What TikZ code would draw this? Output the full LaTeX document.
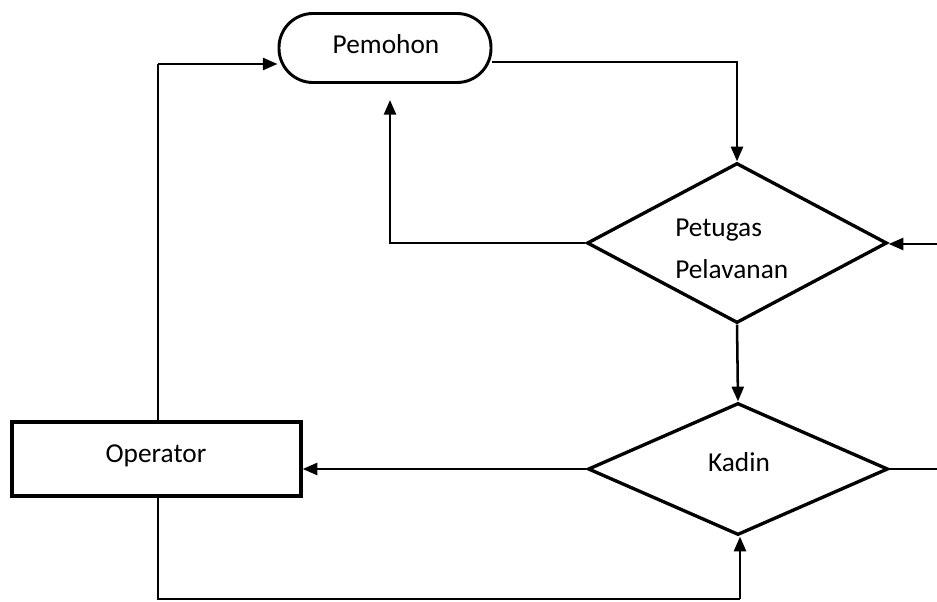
\documentclass[tikz,border=0pt]{standalone}
\usepackage{fontspec}
\setmainfont{Carlito}
\usetikzlibrary{shapes.geometric,arrows.meta,calc}
\begin{document}
\begin{tikzpicture}[x=0.75pt,y=-0.75pt,
  every node/.style={font=\fontsize{20.5pt}{31pt}\selectfont},
  stadium/.style={draw,line width=2.2pt,rectangle,rounded corners=25.5pt,minimum width=159pt,minimum height=51.75pt,inner sep=0pt},
  decision/.style={draw,line width=2.5pt,diamond,minimum width=225pt,inner sep=0pt},
  procbox/.style={draw,line width=2.5pt,rectangle,minimum width=216.75pt,minimum height=55.5pt,inner sep=0pt},
  lbl/.style={anchor=base,inner sep=0pt},
  conn/.style={line width=1.9pt,-{Triangle[length=11pt,width=9pt]}},
  thinline/.style={line width=1.4pt}]
\useasboundingbox (0,0) rectangle (937,602);
\node[stadium] (pem) at (385,48) {};
\node[lbl] (pemt) at (386,54) {Pemohon};
\node[decision,minimum height=120pt] (pet) at (737,243) {};
\node[align=left,anchor=base west,inner sep=0pt] (pett) at (675,278) {Petugas\\Pelavanan};
\node[decision,minimum height=99pt] (kad) at (738,469) {};
\node[lbl] (kadt) at (739,471) {Kadin};
\node[procbox] (op) at (156.5,459) {};
\node[lbl] (opt) at (156,462) {Operator};
\coordinate (rin) at (937,244);
\coordinate (rout) at (937,466);
\coordinate (upend) at (390,100);
% Pemohon -> Petugas
\draw[thinline] ([yshift=-10.5pt]pem.east) -| (737,150);
\draw[conn] (737,140) -- (pet.north);
% right input to Petugas
\draw[conn] (rin) -- (rin -| pet.east);
% Petugas -> up toward Pemohon
\draw[conn] (pet.west) -| (upend);
% Petugas -> Kadin
\draw[conn] (pet.south) -- (kad.north);
% Kadin -> Operator
\draw[conn] (kad.west) -- (kad.west -| op.east);
% Kadin right out
\draw[thinline] (kad.east) -- (kad.east -| rout);
% Operator -> Pemohon
\draw[thinline] (op.north -| 158,0) -- (158,64);
\draw[conn] (158,64) -- ([yshift=-12pt]pem.west);
% Operator -> Kadin bottom
\draw[thinline] (op.south -| 158,0) -- (158,599) -- (740,599);
\draw[conn] (740,599) -- (kad.south -| 740,0);
\end{tikzpicture}
\end{document}
